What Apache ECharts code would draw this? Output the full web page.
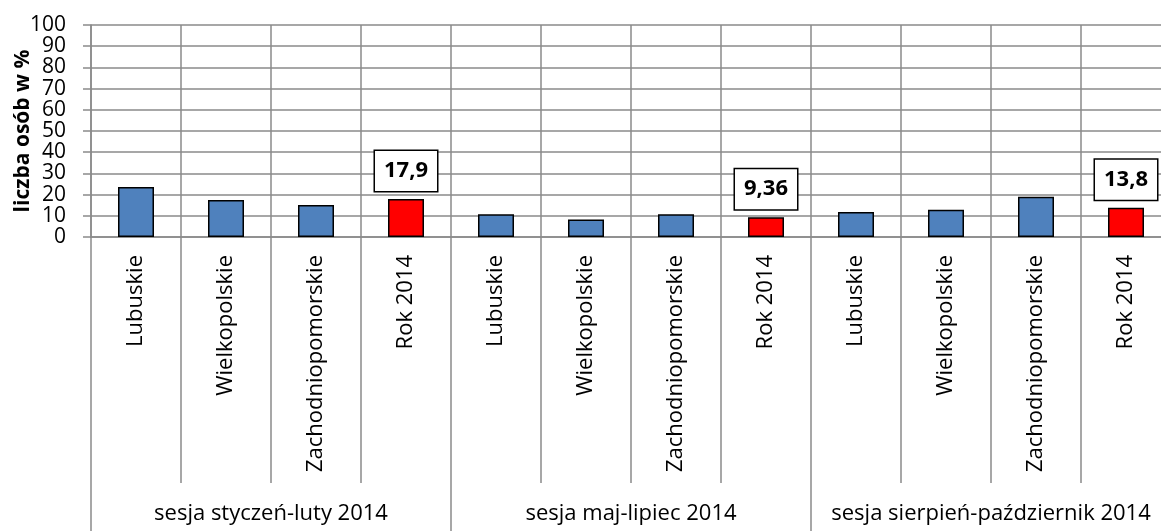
<!DOCTYPE html>
<html>
<head>
<meta charset="utf-8">
<script src="https://cdn.jsdelivr.net/npm/echarts@6/dist/echarts.min.js"></script>
<style>
  html, body { margin: 0; padding: 0; background: #fff; }
  #chart { width: 1161px; height: 531px; }
</style>
</head>
<body>
<div id="chart"></div>
<script>
// dane
const categories = [
    'Lubuskie', 'Wielkopolskie', 'Zachodniopomorskie', 'Rok 2014',
    'Lubuskie', 'Wielkopolskie', 'Zachodniopomorskie', 'Rok 2014',
    'Lubuskie', 'Wielkopolskie', 'Zachodniopomorskie', 'Rok 2014'
]
const groups = ['sesja styczeń-luty 2014', 'sesja maj-lipiec 2014', 'sesja sierpień-październik 2014']
const values = [23.6, 17.5, 15.1, 17.9, 10.7, 8.3, 10.7, 9.36, 11.8, 12.9, 19.0, 13.8]
const yTicks = [0, 10, 20, 30, 40, 50, 60, 70, 80, 90, 100]

const font = '"Open Sans", sans-serif'
const gridColor = '#8a8a8a'

const chart = echarts.init(document.getElementById('chart'))

const seriesData = values.map((v, i) => {
    const isYear = categories[i] === 'Rok 2014'          // słupek roczny - czerwony z etykietą
    return {
        value: v,
        itemStyle: { color: isYear ? '#ff0000' : '#4f81bd' },
        label: {
            show: isYear,
            position: 'top',
            distance: 8,
            formatter: (p) => String(p.value).replace('.', ','),
            color: '#000',
            fontFamily: font,
            fontWeight: 'bold',
            fontSize: 22,
            lineHeight: 24,
            backgroundColor: '#fff',
            borderColor: '#000',
            borderWidth: 1.5,
            padding: [8, 9, 8, 9]
        }
    }
})

const option = {
    animation: false,
    grid: { left: 91, top: 25, width: 1080, height: 212, outerBoundsMode: 'none', containLabel: false },
    xAxis: [
        {
            type: 'category',
            data: categories,
            position: 'bottom',
            axisLine: { show: true, lineStyle: { color: gridColor, width: 1.5 } },
            axisTick: { show: true, interval: 0, length: 246, lineStyle: { color: gridColor, width: 1.5 } },
            splitLine: { show: true, interval: 0, lineStyle: { color: gridColor, width: 1.5 } },
            axisLabel: {
                interval: 0, rotate: 90, margin: 18,
                color: '#000', fontFamily: font, fontSize: 22
            }
        },
        {
            type: 'category',
            data: groups,
            position: 'bottom',
            axisLine: { show: false },
            axisTick: { show: true, interval: 0, length: 294, lineStyle: { color: gridColor, width: 1.5 } },
            axisLabel: {
                interval: 0, margin: 266,
                color: '#000', fontFamily: font, fontSize: 22
            }
        }
    ],
    yAxis: {
        type: 'value',
        min: yTicks[0],
        max: yTicks[yTicks.length - 1],
        interval: 10,
        name: 'liczba osób w %',
        nameLocation: 'middle',
        nameRotate: 90,
        nameGap: 57,
        nameMoveOverlap: false,
        nameTextStyle: { color: '#000', fontFamily: font, fontSize: 21, fontWeight: 'bold' },
        axisLine: { show: true, lineStyle: { color: gridColor, width: 1.5 } },
        axisTick: { show: true, length: 8, lineStyle: { color: gridColor, width: 1.5 } },
        splitLine: { show: true, lineStyle: { color: gridColor, width: 1.5 } },
        axisLabel: { color: '#000', fontFamily: font, fontSize: 21, margin: 25, lineHeight: 20 }
    },
    series: [{
        type: 'bar',
        xAxisIndex: 0,
        barWidth: 36,
        data: seriesData,
        itemStyle: { borderColor: '#000', borderWidth: 1.5 }
    }]
}

chart.setOption(option)
</script>
</body>
</html>
